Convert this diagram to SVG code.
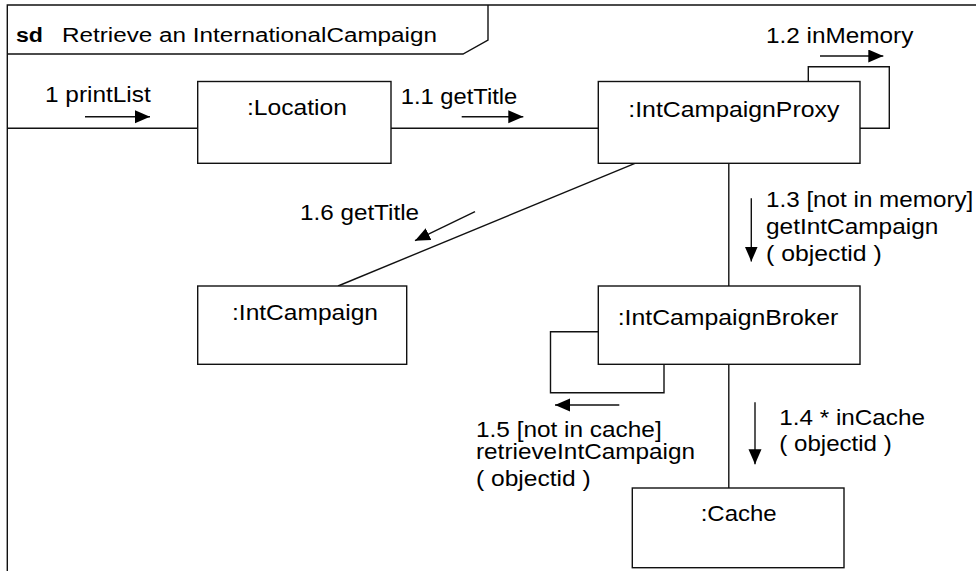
<svg xmlns="http://www.w3.org/2000/svg" width="976" height="571" viewBox="0 0 976 571">
<style>
.ln{fill:none;stroke:#111;stroke-width:1.4}
.box{fill:#fff;stroke:#111;stroke-width:1.4}
.t{font-family:"Liberation Sans",Arial,sans-serif;font-size:22px;fill:#000}
.tt{font-family:"Liberation Sans",Arial,sans-serif;font-size:20px;fill:#000}
.ar{fill:none;stroke:#111;stroke-width:1.4;marker-end:url(#ah)}
</style>
<defs>
<marker id="ah" markerUnits="userSpaceOnUse" markerWidth="16" markerHeight="14" refX="15" refY="6.5" orient="auto">
<path d="M0,0 L15,6.5 L0,13 z" fill="#000"/>
</marker>
</defs>
<rect width="976" height="571" fill="#fff"/>
<g id="frame">
<path class="ln" d="M7.3,580 V5 H990"/>
<path class="ln" d="M7.3,54 H463 L488,40 V5"/>
<text class="tt" x="16" y="42" font-weight="bold" textLength="27" lengthAdjust="spacingAndGlyphs">sd</text>
<text class="tt" x="62" y="42" textLength="375" lengthAdjust="spacingAndGlyphs">Retrieve an InternationalCampaign</text>
</g>
<g id="connectors">
<path class="ln" d="M7.3,128.3 H198"/>
<path class="ln" d="M391,128.3 H598.3"/>
<path class="ln" d="M808.3,81 V66.7 H889.3 V128.3 H860"/>
<path class="ln" d="M635,163.3 L338,286"/>
<path class="ln" d="M728.8,163.3 V286"/>
<path class="ln" d="M598.3,331.7 H550.5 V392.7 H664 V364.3"/>
<path class="ln" d="M728.8,364.3 V488"/>
</g>
<g id="messages">
<text class="t" x="45" y="101.7" textLength="105.7" lengthAdjust="spacingAndGlyphs">1 printList</text>
<path class="ar" d="M85,116.7 H150"/>
<text class="t" x="400.7" y="104" textLength="116.6" lengthAdjust="spacingAndGlyphs">1.1 getTitle</text>
<path class="ar" d="M461.7,116.7 H523.3"/>
<text class="t" x="766" y="42.7" textLength="147.3" lengthAdjust="spacingAndGlyphs">1.2 inMemory</text>
<path class="ar" d="M820,56 H883.3"/>
<text class="t" x="766" y="207.3" textLength="207.3" lengthAdjust="spacingAndGlyphs">1.3 [not in memory]</text>
<text class="t" x="766" y="234" textLength="172.3" lengthAdjust="spacingAndGlyphs">getIntCampaign</text>
<text class="t" x="766" y="261" textLength="115.7" lengthAdjust="spacingAndGlyphs">( objectid )</text>
<path class="ar" d="M751.3,198.3 V261.5"/>
<text class="t" x="779.3" y="425" textLength="145.7" lengthAdjust="spacingAndGlyphs">1.4 * inCache</text>
<text class="t" x="779.3" y="451" textLength="112.4" lengthAdjust="spacingAndGlyphs">( objectid )</text>
<path class="ar" d="M755,402.3 V464.3"/>
<text class="t" x="476" y="436.7" textLength="185.7" lengthAdjust="spacingAndGlyphs">1.5 [not in cache]</text>
<text class="t" x="476" y="459.3" textLength="219" lengthAdjust="spacingAndGlyphs">retrieveIntCampaign</text>
<text class="t" x="476" y="486" textLength="114.7" lengthAdjust="spacingAndGlyphs">( objectid )</text>
<path class="ar" d="M619.3,405 H555"/>
<text class="t" x="300" y="220" textLength="119" lengthAdjust="spacingAndGlyphs">1.6 getTitle</text>
<path class="ar" d="M475,211.7 L415,240.7"/>
</g>
<g id="location">
<rect class="box" x="197.7" y="81.5" width="193.3" height="81.8"/>
<text class="t" x="247" y="115" textLength="100" lengthAdjust="spacingAndGlyphs">:Location</text>
</g>
<g id="proxy">
<rect class="box" x="598.3" y="81.5" width="261.7" height="81.8"/>
<text class="t" x="628.3" y="116.7" textLength="211" lengthAdjust="spacingAndGlyphs">:IntCampaignProxy</text>
</g>
<g id="intcampaign">
<rect class="box" x="197.7" y="286" width="209" height="78.3"/>
<text class="t" x="232" y="320" textLength="146" lengthAdjust="spacingAndGlyphs">:IntCampaign</text>
</g>
<g id="broker">
<rect class="box" x="598.3" y="286" width="261.7" height="78.3"/>
<text class="t" x="617.7" y="325" textLength="220.6" lengthAdjust="spacingAndGlyphs">:IntCampaignBroker</text>
</g>
<g id="cache">
<rect class="box" x="632.3" y="488" width="211.7" height="79.7"/>
<text class="t" x="700.7" y="521" textLength="76" lengthAdjust="spacingAndGlyphs">:Cache</text>
</g>
</svg>
